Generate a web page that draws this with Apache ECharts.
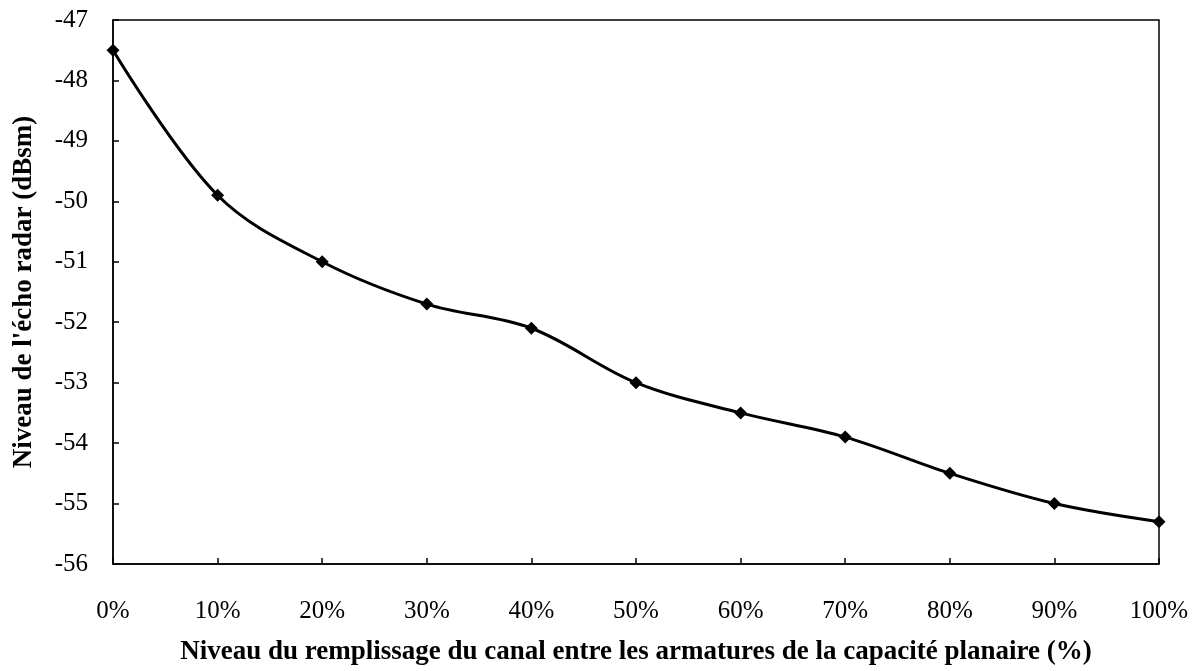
<!DOCTYPE html>
<html><head><meta charset="utf-8">
<script src="https://cdn.jsdelivr.net/npm/echarts@6/dist/echarts.min.js"></script>
<style>html,body{margin:0;padding:0;background:#fff}#c{width:1198px;height:671px}</style>
</head><body><div id="c"></div>
<script>
const categories = ['0%','10%','20%','30%','40%','50%','60%','70%','80%','90%','100%'];
const values = [-47.5, -49.9, -51.0, -51.7, -52.1, -53.0, -53.5, -53.9, -54.5, -55.0, -55.3];
const xTitle = 'Niveau du remplissage du canal entre les armatures de la capacité planaire (%)';
const yTitle = "Niveau de l'écho radar (dBsm)";
const font = '"Liberation Serif", "Times New Roman", serif';
const chart = echarts.init(document.getElementById('c'));
chart.setOption({
  animation: false,
  grid: {left: 113, right: 39, top: 20, bottom: 104, show: true, borderColor: '#000', borderWidth: 1.5, backgroundColor: 'transparent'},
  xAxis: {
    type: 'category', data: categories, boundaryGap: false,
    axisLine: {lineStyle: {color: '#000', width: 1.5}},
    axisTick: {inside: true, length: 6, lineStyle: {color: '#000', width: 1.5}},
    axisLabel: {color: '#000', fontFamily: font, fontSize: 25, margin: 35},
    splitLine: {show: false},
    name: xTitle, nameLocation: 'middle', nameGap: 75,
    nameTextStyle: {color: '#000', fontFamily: font, fontSize: 27, fontWeight: 'bold'}
  },
  yAxis: {
    type: 'value', min: -56, max: -47, interval: 1,
    axisLine: {show: true, lineStyle: {color: '#000', width: 1.5}},
    axisTick: {show: true, inside: true, length: 6, lineStyle: {color: '#000', width: 1.5}},
    axisLabel: {color: '#000', fontFamily: font, fontSize: 25, margin: 25},
    splitLine: {show: false},
    name: yTitle, nameLocation: 'middle', nameGap: 75,
    nameTextStyle: {color: '#000', fontFamily: font, fontSize: 27, fontWeight: 'bold'}
  },
  series: [{
    type: 'line', data: values, smooth: 0.35,
    symbol: 'diamond', symbolSize: 13,
    lineStyle: {color: '#000', width: 3},
    itemStyle: {color: '#000'}
  }]
});
</script></body></html>
